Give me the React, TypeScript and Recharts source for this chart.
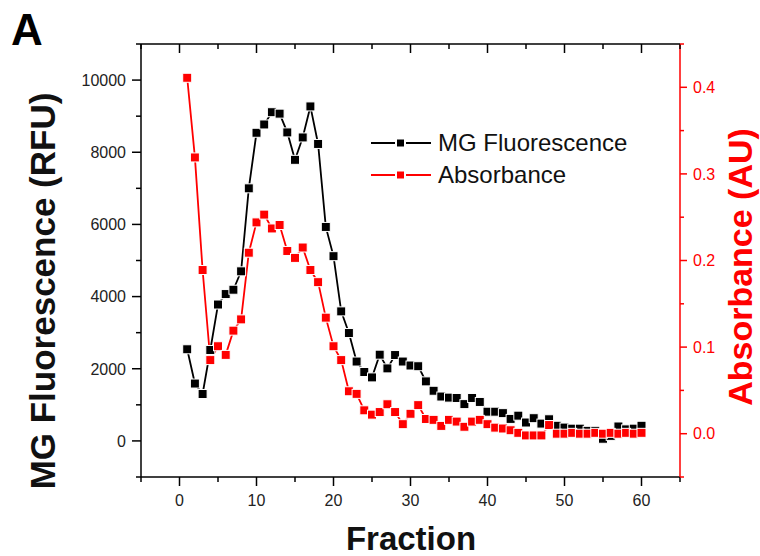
import * as React from 'react';
import { Legend, Line, LineChart, XAxis, YAxis } from 'recharts';

const fractions = [
  1, 2, 3, 4, 5, 6, 7, 8, 9, 10, 11, 12, 13, 14, 15, 16, 17, 18, 19, 20,
  21, 22, 23, 24, 25, 26, 27, 28, 29, 30, 31, 32, 33, 34, 35, 36, 37, 38, 39, 40,
  41, 42, 43, 44, 45, 46, 47, 48, 49, 50, 51, 52, 53, 54, 55, 56, 57, 58, 59, 60];

const mgFluorescence = [
  2540, 1590, 1300, 2520, 3780, 4070, 4190, 4700, 7000, 8540,
  8770, 9110, 9070, 8550, 7790, 8410, 9270, 8230, 5930, 5120,
  3590, 2990, 2200, 1910, 1760, 2390, 2010, 2380, 2200, 2090,
  2070, 1650, 1390, 1230, 1200, 1190, 1020, 1190, 1080, 810,
  810, 770, 610, 700, 510, 630, 480, 600, 420, 370,
  340, 340, 280, 280, 60, 140, 400, 320, 340, 420];

const absorbance = [
  0.411, 0.319, 0.189, 0.085, 0.101, 0.091, 0.119, 0.132, 0.209, 0.244,
  0.253, 0.237, 0.241, 0.211, 0.203, 0.215, 0.189, 0.175, 0.134, 0.101,
  0.085, 0.049, 0.046, 0.027, 0.022, 0.025, 0.034, 0.025, 0.011, 0.023,
  0.033, 0.017, 0.016, 0.009, 0.016, 0.014, 0.008, 0.014, 0.016, 0.011,
  0.007, 0.006, 0.004, 0.001, -0.002, -0.002, -0.002, 0.010, 0.000, 0.000,
  0.001, 0.000, 0.000, 0.001, 0.000, 0.001, 0.000, 0.001, 0.000, 0.001];

const xTicks = [-5, 0, 5, 10, 15, 20, 25, 30, 35, 40, 45, 50, 55, 60, 65];
const leftTicks = [-1000, 0, 1000, 2000, 3000, 4000, 5000, 6000, 7000, 8000, 9000, 10000, 11000];
const rightTicks = [-0.05, 0, 0.05, 0.1, 0.15, 0.2, 0.25, 0.3, 0.35, 0.4, 0.45];

const data = fractions.map((f, i) => ({ fraction: f, mg: mgFluorescence[i], abs: absorbance[i] }));

const FONT = '"Liberation Sans", Arial, sans-serif';
const RED = '#ff0000';

const squareDot = (color: string, size: number) => (props: any) => {
  const { cx, cy, index } = props;
  if (cx == null || cy == null) return <g key={index} />;
  return (
    <rect key={index} x={cx - size / 2} y={cy - size / 2} width={size} height={size}
      fill={color} stroke="#fff" strokeWidth={1} />
  );
};

const BottomTick = (props: any) => {
  const { x, y, payload } = props;
  const v = payload.value;
  const major = v % 10 === 0;
  return (
    <g>
      <line x1={x} x2={x} y1={y} y2={y + (major ? 9 : 5)} stroke="#000" strokeWidth={1.5} />
      {major && v >= 0 && v <= 60 && (
        <text x={x} y={y + 29} textAnchor="middle" fontFamily={FONT} fontSize={16} fill="#222">{v}</text>
      )}
    </g>
  );
};

const TopTick = (props: any) => {
  const { x, y, payload } = props;
  const major = payload.value % 10 === 0;
  return <line x1={x} x2={x} y1={y} y2={y + (major ? 9 : 5)} stroke="#000" strokeWidth={1.5} />;
};

const LeftTick = (props: any) => {
  const { x, y, payload } = props;
  const v = payload.value;
  const major = v % 2000 === 0;
  return (
    <g>
      <line x1={x - (major ? 9 : 5)} x2={x} y1={y} y2={y} stroke="#000" strokeWidth={1.5} />
      {major && v >= 0 && v <= 10000 && (
        <text x={x - 15} y={y} dy="0.36em" textAnchor="end" fontFamily={FONT} fontSize={16} fill="#222">{v}</text>
      )}
    </g>
  );
};

const RightTick = (props: any) => {
  const { x, y, payload } = props;
  const v = payload.value;
  const major = Math.abs(v * 10 - Math.round(v * 10)) < 1e-6;
  return (
    <g>
      <line x1={x} x2={x + (major ? 7 : 4)} y1={y} y2={y} stroke={RED} strokeWidth={1.5} />
      {major && v > -0.01 && v < 0.41 && (
        <text x={x + 13} y={y} dy="0.36em" textAnchor="start" fontFamily={FONT} fontSize={16} fill={RED}>{v.toFixed(1)}</text>
      )}
    </g>
  );
};

const legendItems = [
  { name: 'MG Fluorescence', color: '#000' },
  { name: 'Absorbance', color: RED },
];

const renderLegend = () => (
  <div style={{ fontFamily: FONT, fontSize: 24, lineHeight: '32px', color: '#111' }}>
    {legendItems.map((it) => (
      <div key={it.name} style={{ display: 'flex', alignItems: 'center', height: 32 }}>
        <svg width={67} height={14} style={{ display: 'block' }}>
          <line x1={0} x2={60} y1={7} y2={7} stroke={it.color} strokeWidth={2} />
          <rect x={25} y={2.5} width={9} height={9} fill={it.color} stroke="#fff" strokeWidth={2} />
        </svg>
        <span>{it.name}</span>
      </div>
    ))}
  </div>
);

export default function App() {
  return (
    <div style={{ position: 'absolute', left: 0, top: 0, width: 760, height: 556, background: '#fff' }}>
      <svg width={60} height={56} style={{ position: 'absolute', left: 0, top: 0 }}>
        <text x={11} y={45} fontFamily={FONT} fontWeight="bold" fontSize={44} fill="#000">A</text>
      </svg>
      <LineChart width={760} height={556} data={data} margin={{ top: 43, right: 0, bottom: 0, left: 0 }}>
        <XAxis xAxisId="bottom" dataKey="fraction" type="number" domain={[-5, 65]} ticks={xTicks}
          interval={0} height={79} tickSize={0} tickMargin={0} tickLine={false} tick={<BottomTick />}
          axisLine={{ stroke: '#000', strokeWidth: 1.5 }}
          label={{
            content: () => (
              <text x={411} y={550} textAnchor="middle" fontFamily={FONT} fontWeight="bold" fontSize={33} fill="#111">Fraction</text>
            ),
          }} />
        <XAxis xAxisId="top" orientation="top" dataKey="fraction" type="number" domain={[-5, 65]} ticks={xTicks}
          interval={0} height={1} tickSize={0} tickMargin={0} tickLine={false} tick={<TopTick />}
          axisLine={{ stroke: '#000', strokeWidth: 1.5 }} />
        <YAxis yAxisId="left" orientation="left" width={141} type="number" domain={[-1000, 11000]} ticks={leftTicks}
          interval={0} tickSize={0} tickMargin={0} tickLine={false} tick={<LeftTick />}
          axisLine={{ stroke: '#000', strokeWidth: 1.5 }}
          label={{
            content: () => (
              <text x={0} y={0} transform="translate(43,291) rotate(-90)" textAnchor="middle" dy="0.35em"
                fontFamily={FONT} fontWeight="bold" fontSize={35} fill="#111">MG Fluorescence (RFU)</text>
            ),
          }} />
        <YAxis yAxisId="right" orientation="right" width={80} type="number" domain={[-0.05, 0.45]} ticks={rightTicks}
          interval={0} tickSize={0} tickMargin={0} tickLine={false} tick={<RightTick />}
          axisLine={{ stroke: RED, strokeWidth: 1.5 }}
          label={{
            content: () => (
              <text x={0} y={0} transform="translate(740,267) rotate(-90)" textAnchor="middle" dy="0.35em"
                fontFamily={FONT} fontWeight="bold" fontSize={34} fill={RED}>Absorbance (AU)</text>
            ),
          }} />
        <Legend layout="horizontal" verticalAlign="middle" align="center" content={renderLegend}
          wrapperStyle={{ position: 'absolute', left: 371, top: 127, width: 'auto' }} />
        <Line xAxisId="bottom" yAxisId="left" type="linear" dataKey="mg" name="MG Fluorescence" stroke="#000"
          strokeWidth={1.8} dot={squareDot('#000', 9)} activeDot={false} isAnimationActive={false} />
        <Line xAxisId="bottom" yAxisId="right" type="linear" dataKey="abs" name="Absorbance" stroke={RED}
          strokeWidth={1.8} dot={squareDot(RED, 9)} activeDot={false} isAnimationActive={false} />
      </LineChart>
    </div>
  );
}
